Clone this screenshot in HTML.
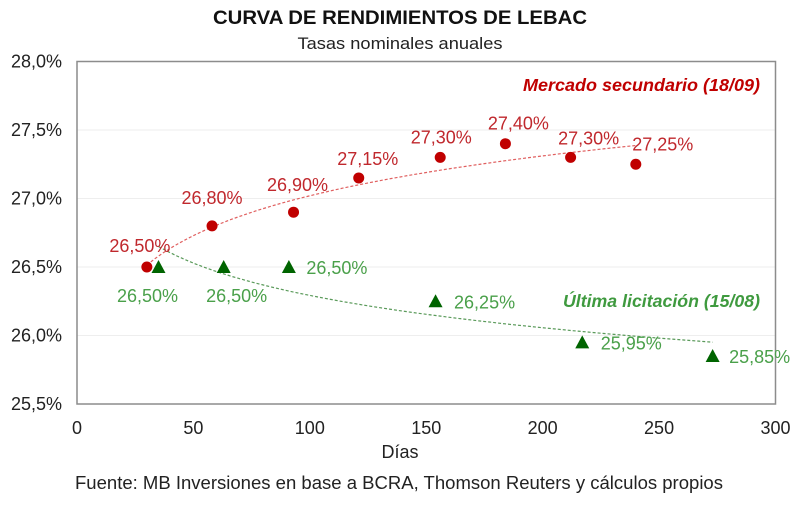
<!DOCTYPE html>
<html><head><meta charset="utf-8"><style>
body{margin:0;background:#fff;font-family:"Liberation Sans",sans-serif}
svg text{font-family:"Liberation Sans",sans-serif}
</style></head><body>
<svg id="c" width="800" height="500" viewBox="0 0 800 500" xmlns="http://www.w3.org/2000/svg">
<text x="400" y="24" text-anchor="middle" font-size="19.5" font-weight="bold" fill="#111" textLength="374" lengthAdjust="spacingAndGlyphs">CURVA DE RENDIMIENTOS DE LEBAC</text>
<text x="400" y="49" text-anchor="middle" font-size="17" fill="#222" textLength="205" lengthAdjust="spacingAndGlyphs">Tasas nominales anuales</text>
<g id="grid"></g>
<rect x="77" y="61.5" width="698.5" height="342.5" fill="none" stroke="#8c8c8c" stroke-width="1.5"/>
<g id="ticks"></g>
<g id="trend"></g>
<g id="marks"></g>
<text x="400" y="458" text-anchor="middle" font-size="18" fill="#222">Días</text>
<text x="399" y="489" text-anchor="middle" font-size="18" fill="#222" textLength="648" lengthAdjust="spacingAndGlyphs">Fuente: MB Inversiones en base a BCRA, Thomson Reuters y cálculos propios</text>
<text x="760" y="91" text-anchor="end" font-size="17.5" font-weight="bold" font-style="italic" fill="#c00000" textLength="237" lengthAdjust="spacingAndGlyphs">Mercado secundario (18/09)</text>
<text x="760" y="307" text-anchor="end" font-size="17.5" font-weight="bold" font-style="italic" fill="#3f9a3f" textLength="197" lengthAdjust="spacingAndGlyphs">Última licitación (15/08)</text>
</svg>
<script>
const xTicks=[0,50,100,150,200,250,300];
const yTicks=[25.5,26.0,26.5,27.0,27.5,28.0];
const redDays=[30,58,93,121,156,184,212,240];
const redRates=[26.50,26.80,26.90,27.15,27.30,27.40,27.30,27.25];
const greenDays=[35,63,91,154,217,273];
const greenRates=[26.50,26.50,26.50,26.25,25.95,25.85];
const redLabelDx=[-7,0,4,9,1,13,18,27];
const redLabelDy=[-15,-22,-21,-13,-14,-14,-13,-14];
const greenLabelDx=[-11,13,48,49,49,47];
const greenLabelDy=[35,35,7,7,7,7];
const NS="http://www.w3.org/2000/svg";
const X=d=>77+(d/300)*698.5;
const Y=v=>404-(v-25.5)/2.5*342.5;
function mk(t,a,p){const e=document.createElementNS(NS,t);for(const k in a)e.setAttribute(k,a[k]);document.getElementById(p).appendChild(e);return e;}
yTicks.forEach(v=>{
 if(v>25.5&&v<28){const g=mk('line',{x1:77,x2:775.5,y1:Y(v),y2:Y(v),stroke:'#eeeeee','stroke-width':1},'grid');
 
 }
 const t=mk('text',{x:62,y:Y(v)+6,'text-anchor':'end','font-size':18,fill:'#222'},'ticks');
 t.textContent=v.toFixed(1).replace('.',',')+'%';
 
 
});
xTicks.forEach(v=>{
 const t=mk('text',{x:X(v),y:434,'text-anchor':'middle','font-size':18,fill:'#222'},'ticks');
 t.textContent=v;
 
 
});
function logFit(xs,ys){const n=xs.length;let sx=0,sy=0,sxx=0,sxy=0;xs.forEach((x,i)=>{const l=Math.log(x);sx+=l;sy+=ys[i];sxx+=l*l;sxy+=l*ys[i];});const b=(n*sxy-sx*sy)/(n*sxx-sx*sx);const a=(sy-b*sx)/n;return x=>a+b*Math.log(x);}
function trend(xs,ys,col,name){const f=logFit(xs,ys);const x0=Math.min(...xs),x1=Math.max(...xs);let d='';for(let i=0;i<=60;i++){const x=x0+(x1-x0)*i/60;d+=(i?'L':'M')+X(x).toFixed(1)+','+Y(f(x)).toFixed(1);}
 const p=mk('path',{d:d,fill:'none',stroke:col,'stroke-width':1.2,'stroke-dasharray':'3,2'},'trend');
 
 }
trend(redDays,redRates,'#e06060','trendline-mercado');
trend(greenDays,greenRates,'#5a9a5a','trendline-licitacion');
const fmt=v=>v.toFixed(2).replace('.',',')+'%';
redDays.forEach((d,i)=>{
 const c=mk('circle',{cx:X(d),cy:Y(redRates[i]),r:5.5,fill:'#c00000'},'marks');
 
 
 const t=mk('text',{x:X(d)+redLabelDx[i],y:Y(redRates[i])+redLabelDy[i],'text-anchor':'middle','font-size':18,fill:'#c0282d'},'marks');
 t.textContent=fmt(redRates[i]);
 
 
});
greenDays.forEach((d,i)=>{
 const x=X(d),y=Y(greenRates[i]);
 const p=mk('polygon',{points:`${x},${y-7} ${x-7},${y+6} ${x+7},${y+6}`,fill:'#006400'},'marks');
 
 
 const t=mk('text',{x:x+greenLabelDx[i],y:y+greenLabelDy[i],'text-anchor':'middle','font-size':18,fill:'#4aa04a'},'marks');
 t.textContent=fmt(greenRates[i]);
 
 
});
</script>
</body></html>
